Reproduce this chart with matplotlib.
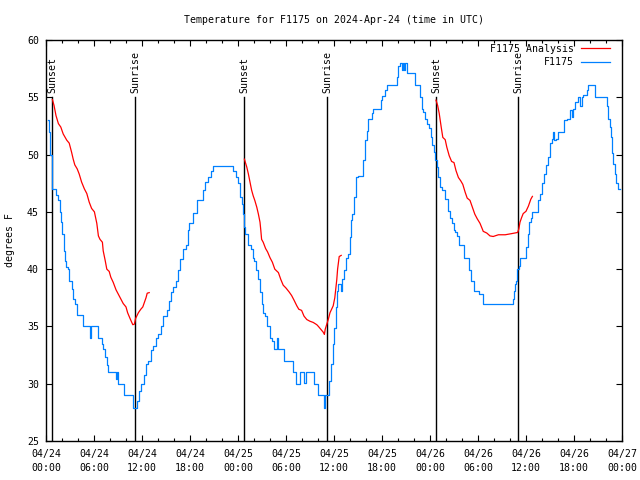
import matplotlib
matplotlib.use("Agg")
import matplotlib.pyplot as plt
from matplotlib.ticker import MultipleLocator

# ---- data (hours since 04/24 00:00 UTC, degrees F) ----
# observed F1175, in pieces (night 1, day 1, night 2, day 2, night 3, day 3)
obs_a_t = [0.25, 0.4, 0.55, 0.7, 0.8, 1.3, 1.55, 1.8, 1.85, 2.05,
           2.2, 2.4, 2.5, 2.75, 2.9, 3.2, 3.4, 3.6, 3.9, 4.65,
           5.55, 5.6, 6.55, 6.95, 7.15, 7.35, 7.6, 7.8, 8.7, 8.85,
           8.95, 9.8, 10.9]
obs_a_v = [53.0, 52.0, 50.0, 47.5, 47.0, 46.5, 46.0, 45.0, 44.1, 43.1,
           41.6, 40.75, 40.2, 40.0, 39.0, 38.3, 37.4, 37.0, 36.0, 35.0,
           34.0, 35.0, 34.0, 33.5, 33.0, 32.3, 31.6, 31.0, 30.4, 31.0,
           30.0, 29.0, 27.9]
obs_b_t = [11.35, 11.65, 11.9, 12.2, 12.5, 12.8, 13.1, 13.4, 13.75, 14.05,
           14.35, 14.65, 15.1, 15.4, 15.6, 15.9, 16.25, 16.45, 16.75, 17.15,
           17.45, 17.8, 17.9, 18.4, 18.85, 19.6, 19.9, 20.3, 20.6, 20.85]
obs_b_v = [28.5, 29.4, 30.0, 30.8, 31.7, 32.0, 32.9, 33.3, 34.0, 34.3,
           35.0, 35.9, 36.4, 37.25, 38.0, 38.4, 39.0, 39.9, 40.9, 41.8,
           42.1, 43.4, 44.0, 44.9, 46.0, 46.9, 47.6, 48.0, 48.6, 49.0]
obs_c_t = [23.4, 23.8, 24.0, 24.25, 24.45, 24.65, 24.8, 24.9, 25.2, 25.3,
           25.6, 25.85, 26.05, 26.25, 26.55, 26.75, 26.95, 27.15, 27.35, 27.65,
           28.0, 28.2, 28.5, 28.85, 29.05, 29.8, 30.85, 31.25, 31.75, 32.2,
           32.45, 33.5, 34.05, 34.7, 34.85]
obs_c_v = [48.6, 48.0, 47.5, 46.3, 45.7, 44.8, 43.7, 43.1, 42.8, 42.1,
           41.8, 41.0, 40.75, 39.9, 39.1, 38.0, 37.0, 36.2, 35.9, 35.0,
           34.0, 33.75, 33.0, 34.0, 33.0, 32.0, 31.0, 30.0, 31.0, 30.1,
           31.0, 30.0, 29.0, 27.9, 29.0]
obs_d_t = [35.4, 35.6, 35.85, 36.05, 36.25, 36.4, 36.55, 36.85, 37.05, 37.3,
           37.5, 37.8, 37.95, 38.1, 38.3, 38.5, 38.75, 39.0, 39.65, 39.9,
           40.1, 40.3, 40.7, 40.9, 41.85, 42.05, 42.4, 42.6, 43.85, 44.05,
           44.25, 44.5, 44.6, 44.75, 44.9, 45.1]
obs_d_v = [30.25, 31.7, 33.5, 34.9, 36.7, 38.1, 38.7, 38.1, 39.1, 39.9,
           41.0, 41.3, 42.8, 44.25, 44.8, 46.3, 48.0, 48.1, 49.5, 51.25,
           52.1, 53.1, 53.6, 54.0, 54.75, 55.1, 55.6, 56.1, 56.8, 57.7,
           58.0, 57.4, 58.0, 57.4, 58.0, 57.1]
obs_e_t = [46.1, 46.75, 46.95, 47.15, 47.4, 47.6, 47.9, 48.1, 48.3, 48.5,
           48.65, 48.85, 49.05, 49.25, 49.45, 49.9, 50.3, 50.5, 50.7, 50.95,
           51.15, 51.4, 51.6, 52.3, 52.9, 53.1, 53.5, 54.1, 54.6]
obs_e_v = [56.1, 55.0, 54.0, 53.75, 53.1, 52.7, 52.3, 51.5, 50.8, 50.2,
           49.5, 48.9, 48.0, 47.2, 46.9, 46.1, 45.1, 44.5, 44.0, 43.4,
           43.2, 42.9, 42.1, 41.0, 39.9, 39.0, 38.1, 37.8, 37.0]
obs_f_t = [58.35, 58.5, 58.6, 58.75, 58.9, 59.1, 59.25, 60.0, 60.2, 60.4,
           60.6, 60.8, 61.5, 61.8, 62.0, 62.25, 62.45, 62.8, 63.0,
           63.2, 63.4, 63.5, 63.75, 63.95, 64.75, 65.1, 65.5, 65.7, 65.9,
           66.1, 66.5, 66.75, 66.95, 67.15, 67.6, 67.7, 68.6, 70.1, 70.3,
           70.5, 70.6, 70.8, 70.9, 71.1, 71.3, 71.5, 71.75]
obs_f_v = [37.4, 38.1, 38.7, 39.0, 40.0, 40.3, 41.0, 41.9, 43.1, 44.1,
           44.5, 45.0, 46.0, 46.6, 47.5, 48.3, 49.1, 49.8, 51.0,
           51.4, 52.0, 51.25, 51.4, 52.0, 53.0, 53.1, 53.9, 53.3, 54.0,
           54.6, 55.0, 54.2, 55.0, 55.2, 55.6, 56.1, 55.0, 54.2, 53.1,
           52.4, 51.5, 50.1, 49.2, 48.3, 47.5, 47.0, 47.0]

# F1175 Analysis, three evening-to-morning runs
ana1_t = [0.8, 1.0, 1.25, 1.55, 1.85, 2.15, 2.6, 2.9, 3.2, 3.4, 3.6, 3.9, 4.15, 4.45, 4.8, 5.1, 5.4, 5.7, 6.05,
          6.35, 6.55, 6.75, 7.05, 7.15, 7.4, 7.6, 7.9, 8.1, 8.4, 8.75, 9.05, 9.35, 9.65, 10.0, 10.2, 10.5,
          10.85, 11.05, 11.2, 11.55, 11.85, 12.1, 12.3, 12.5, 12.65, 12.9]
ana1_v = [54.8, 54.3, 53.4, 52.7, 52.4, 51.8, 51.25, 51.0, 50.2, 49.6, 49.1, 48.75, 48.3, 47.6, 47.0, 46.6, 45.85,
          45.3, 45.0, 44.0, 42.9, 42.6, 42.35, 41.6, 40.75, 40.0, 39.8, 39.3, 38.85, 38.2, 37.8, 37.4, 37.0,
          36.7, 36.2, 35.7, 35.15, 35.2, 35.7, 36.2, 36.5, 36.7, 37.1, 37.5, 37.9, 37.95]
ana2_t = [24.8, 25.1, 25.3, 25.5, 25.7, 25.9, 26.1, 26.35, 26.55, 26.75, 26.85, 26.95, 27.15, 27.45, 27.7, 28.0,
          28.3, 28.6, 29.05, 29.35, 29.65, 30.0, 30.4, 30.7, 31.0, 31.35, 31.6, 31.95, 32.25, 32.6, 33.0,
          33.4, 33.85, 34.05, 34.35, 34.65, 34.8, 34.9, 35.1, 35.3, 35.5, 35.7, 35.9, 36.1, 36.35, 36.45,
          36.65, 36.9]
ana2_v = [49.6, 48.9, 48.3, 47.6, 46.9, 46.4, 46.0, 45.4, 44.8, 44.1, 43.4, 42.6, 42.35, 41.8, 41.5, 41.0, 40.6,
          40.0, 39.7, 39.1, 38.6, 38.35, 38.0, 37.7, 37.3, 36.8, 36.5, 36.4, 35.9, 35.6, 35.45, 35.35, 35.15,
          35.0, 34.75, 34.5, 34.3, 34.75, 35.2, 35.65, 36.2, 36.5, 36.8, 37.5, 39.1, 40.0, 41.1, 41.2]
ana3_t = [48.75, 48.95, 49.15, 49.4, 49.6, 49.9, 50.1, 50.4, 50.7, 51.0, 51.25, 51.55, 51.85, 52.1, 52.4, 52.65,
          53.0, 53.3, 53.6, 53.9, 54.25, 54.6, 54.65, 55.1, 55.5, 55.9, 56.55, 57.4, 58.2, 58.95, 59.1,
          59.25, 59.45, 59.65, 60.0, 60.3, 60.6, 60.8]
ana3_v = [54.75, 54.3, 53.6, 52.4, 51.5, 51.3, 50.65, 49.9, 49.4, 49.3, 48.6, 48.0, 47.7, 47.4, 46.7, 46.2, 46.0,
          45.4, 44.8, 44.4, 44.0, 43.4, 43.3, 43.15, 42.9, 42.85, 43.0, 43.0, 43.1, 43.2, 43.5, 44.1, 44.5,
          44.85, 45.05, 45.5, 46.1, 46.35]

event_t = [0.8, 11.15, 24.8, 35.15, 48.8, 59.05]
event_label = ["Sunset", "Sunrise", "Sunset", "Sunrise", "Sunset", "Sunrise"]
event_top = 55.0

xtick_hours = list(range(0, 73, 6))
xtick_labels = ["04/24\n00:00", "04/24\n06:00", "04/24\n12:00", "04/24\n18:00",
                "04/25\n00:00", "04/25\n06:00", "04/25\n12:00", "04/25\n18:00",
                "04/26\n00:00", "04/26\n06:00", "04/26\n12:00", "04/26\n18:00",
                "04/27\n00:00"]

obs_t = obs_a_t + obs_b_t + obs_c_t + obs_d_t + obs_e_t + obs_f_t
obs_v = obs_a_v + obs_b_v + obs_c_v + obs_d_v + obs_e_v + obs_f_v

FONT = "DejaVu Sans Mono"
FS = 7.1
RED = "#ff0000"
BLUE = "#0080ff"

fig = plt.figure(figsize=(6.4, 4.8), dpi=100)
ax = fig.add_axes([46/640, 1 - 441/480, 576/640, 401/480])

for t, lab in zip(event_t, event_label):
    ax.plot([t, t], [25, event_top], color="black", lw=1.0, zorder=1)
    ax.text(t, event_top + 0.4, lab, rotation=90, ha="center", va="bottom",
            fontsize=FS, family=FONT)

ax.plot(ana1_t, ana1_v, color=RED, lw=0.9, label="F1175 Analysis", zorder=3)
ax.plot(ana2_t, ana2_v, color=RED, lw=0.9, zorder=3)
ax.plot(ana3_t, ana3_v, color=RED, lw=0.9, zorder=3)
ax.plot(obs_t, obs_v, color=BLUE, lw=0.9, drawstyle="steps-post", label="F1175", zorder=2)

ax.set_xlim(0, 72)
ax.set_ylim(25, 60)
ax.set_xticks(xtick_hours)
ax.set_xticklabels(xtick_labels, fontsize=FS, family=FONT, linespacing=1.5)
ax.xaxis.set_minor_locator(MultipleLocator(2))
ax.yaxis.set_major_locator(MultipleLocator(5))
for lbl in ax.get_yticklabels():
    lbl.set_fontsize(FS)
    lbl.set_family(FONT)
ax.tick_params(which="both", direction="in", top=True, right=True, width=0.8)
ax.tick_params(axis="x", which="major", length=4, pad=6)
ax.tick_params(axis="y", which="major", length=4, pad=5)
ax.tick_params(which="minor", length=2)
for s in ax.spines.values():
    s.set_linewidth(1.0)

ax.set_ylabel("degrees F", fontsize=FS, family=FONT, labelpad=9)
fig.text(334/640, 1 - 20/480, "Temperature for F1175 on 2024-Apr-24 (time in UTC)",
         ha="center", va="center", fontsize=FS, family=FONT)

leg = ax.legend(loc="upper right", bbox_to_anchor=(0.986, 1.0), frameon=False,
                markerfirst=False, prop={"family": FONT, "size": FS}, handlelength=2.9,
                labelspacing=0.35, borderaxespad=0.0, handletextpad=0.8)

fig.savefig("out.png", dpi=100)
